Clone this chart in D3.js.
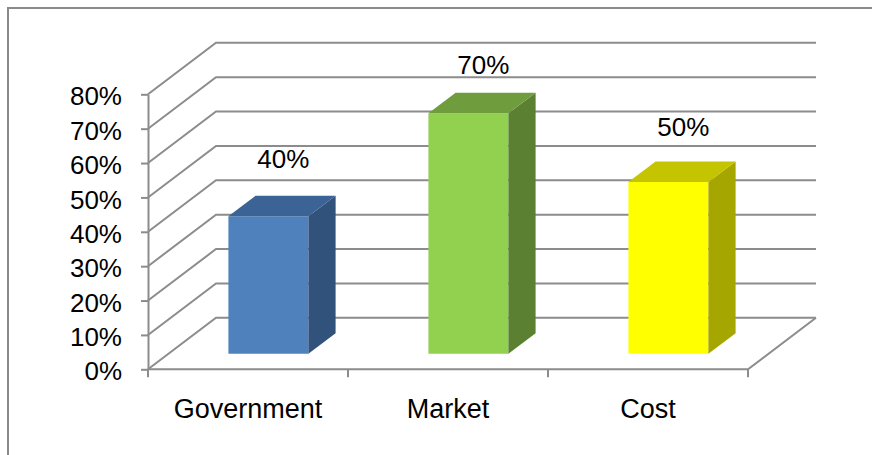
<!DOCTYPE html>
<html>
<head>
<meta charset="utf-8">
<script src="https://cdn.jsdelivr.net/npm/d3@7"></script>
<style>
  html, body { margin: 0; padding: 0; background: #ffffff; }
  svg { display: block; font-family: "Liberation Sans", Arial, sans-serif; }
</style>
</head>
<body>
<svg id="chart" width="872" height="455"></svg>
<script>
// Chart data
const categories = ["Government", "Market", "Cost"];
const values = [0.40, 0.70, 0.50];
const valueLabels = ["40%", "70%", "50%"];
const yTickValues = [0, 0.1, 0.2, 0.3, 0.4, 0.5, 0.6, 0.7, 0.8];

// Face colours per bar: front, top, side
const faceColors = [
  { front: "#4f81bd", top: "#3c6396", side: "#31527b" },
  { front: "#92d050", top: "#6f9d3d", side: "#5b8032" },
  { front: "#ffff00", top: "#c4c400", side: "#a6a600" }
];

const svg = d3.select("#chart");
const W = 872, H = 455;

// Plot geometry (front plane) and the depth vector towards the back wall
const plotLeft = 148, plotRight = 748;
const floorY = 369.3, topY = 94.3;
const DX = 68, DY = -51.5;
const gridColor = "#8c8c8c";

const x = d3.scaleBand().domain(categories).range([plotLeft, plotRight]).padding(0);
const y = d3.scaleLinear().domain([0, 0.8]).range([floorY, topY]);
// Value labels float above the bars, slightly compressed with height
const labelY = d3.scaleLinear().domain([0, 0.8]).range([292.8, 42.4]);

// Outer chart frame
svg.append("path")
  .attr("d", `M8,${H + 10} V8 H${W + 10}`)
  .attr("fill", "none")
  .attr("stroke", "#8a8a8a")
  .attr("stroke-width", 2);

// Back wall gridlines and side wall diagonals
const grid = svg.append("g").attr("fill", "none").attr("stroke", gridColor).attr("stroke-width", 2);
yTickValues.forEach(v => {
  const yy = y(v);
  grid.append("path")
    .attr("d", `M${plotLeft},${yy} L${plotLeft + DX},${yy + DY} L${plotRight + DX},${yy + DY}`);
});
// Floor: front edge and right diagonal
grid.append("path")
  .attr("d", `M${plotLeft},${floorY} L${plotRight},${floorY} L${plotRight + DX},${floorY + DY}`);

// Left value axis
const yAxis = d3.axisLeft(y)
  .tickValues(yTickValues)
  .tickFormat(d3.format(".0%"))
  .tickSize(7)
  .tickSizeOuter(0)
  .tickPadding(19);
const yAxisG = svg.append("g").attr("transform", `translate(${plotLeft},0)`).call(yAxis);
yAxisG.select(".domain").attr("stroke", gridColor).attr("stroke-width", 2);
yAxisG.selectAll(".tick line").attr("stroke", gridColor).attr("stroke-width", 2);
yAxisG.selectAll(".tick text")
  .attr("fill", "#000")
  .attr("font-size", 26)
  .attr("font-family", "Liberation Sans, Arial, sans-serif")
  .attr("dy", "0.41em");

// Category axis: ticks on band boundaries, labels at band centres
const boundaries = categories.map(c => x(c)).concat([x(categories[categories.length - 1]) + x.bandwidth()]);
svg.append("g").selectAll("line").data(boundaries).join("line")
  .attr("x1", d => d).attr("x2", d => d)
  .attr("y1", floorY).attr("y2", floorY + 8)
  .attr("stroke", gridColor).attr("stroke-width", 2);
svg.append("g").selectAll("text").data(categories).join("text")
  .attr("x", d => x(d) + x.bandwidth() / 2)
  .attr("y", floorY + 49)
  .attr("text-anchor", "middle")
  .attr("font-size", 27)
  .attr("fill", "#000")
  .text(d => d);

// 3D bars: front face at 30% depth, back at 70%
const f0 = 0.3, f1 = 0.7;
const barW = x.bandwidth() * 0.4;
const bars = svg.append("g");
categories.forEach((c, i) => {
  const xl = x(c) + (x.bandwidth() - barW) / 2;
  const xr = xl + barW;
  const yt = y(values[i]);
  const yb = y(0);
  const col = faceColors[i];
  const g = bars.append("g");
  // front
  g.append("path")
    .attr("d", `M${xl + f0 * DX},${yt + f0 * DY} L${xr + f0 * DX},${yt + f0 * DY} L${xr + f0 * DX},${yb + f0 * DY} L${xl + f0 * DX},${yb + f0 * DY} Z`)
    .attr("fill", col.front);
  // side
  g.append("path")
    .attr("d", `M${xr + f0 * DX},${yt + f0 * DY} L${xr + f1 * DX},${yt + f1 * DY} L${xr + f1 * DX},${yb + f1 * DY} L${xr + f0 * DX},${yb + f0 * DY} Z`)
    .attr("fill", col.side);
  // top
  g.append("path")
    .attr("d", `M${xl + f0 * DX},${yt + f0 * DY} L${xr + f0 * DX},${yt + f0 * DY} L${xr + f1 * DX},${yt + f1 * DY} L${xl + f1 * DX},${yt + f1 * DY} Z`)
    .attr("fill", col.top);
});

// Value labels
svg.append("g").selectAll("text").data(categories).join("text")
  .attr("x", d => x(d) + x.bandwidth() / 2 + 0.52 * DX)
  .attr("y", (d, i) => labelY(values[i]))
  .attr("text-anchor", "middle")
  .attr("font-size", 26)
  .attr("fill", "#000")
  .text((d, i) => valueLabels[i]);
</script>
</body>
</html>
